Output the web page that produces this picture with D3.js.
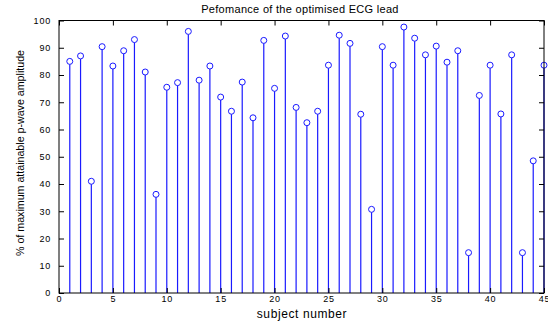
<!DOCTYPE html>
<html><head><meta charset="utf-8">
<script src="https://cdn.jsdelivr.net/npm/d3@7"></script>
<style>body{margin:0;background:#fff}svg{display:block}text{font-family:"Liberation Sans",Arial,sans-serif}</style>
</head><body>
<svg id="c" width="548" height="325"></svg>
<script>
const subjects = d3.range(1, 46);
const values = [85,87,41,90.4,83.3,88.9,93,81.1,36.2,75.5,77.2,96,78.1,83.3,71.9,
66.7,77.4,64.3,92.7,75.1,94.3,68.1,62.5,66.7,83.6,94.6,91.6,65.6,30.7,
90.4,83.6,97.6,93.5,87.4,90.6,84.7,88.9,14.8,72.5,83.6,65.7,87.4,14.8,48.5,83.6];
const xTicks = [0,5,10,15,20,25,30,35,40,45];
const yTicks = [0,10,20,30,40,50,60,70,80,90,100];
const title = "Pefomance of the optimised ECG lead";
const xLabel = "subject number";
const yLabel = "% of maximum attainable p-wave amplitude";

const svg = d3.select("#c");
const L=59, R=544, T=20.5, B=293;
const x = d3.scaleLinear().domain([0,45]).range([L,R]);
const y = d3.scaleLinear().domain([0,100]).range([B,T]);
const blue = "#1a1aff";

const g = svg.append("g");
g.selectAll("line.stem").data(values).join("line")
  .attr("x1",(d,i)=>x(subjects[i])).attr("x2",(d,i)=>x(subjects[i]))
  .attr("y1",y(0)).attr("y2",d=>y(d)+3)
  .attr("stroke",blue).attr("stroke-width",1.2);
g.selectAll("circle").data(values).join("circle")
  .attr("cx",(d,i)=>x(subjects[i])).attr("cy",d=>y(d))
  .attr("r",3).attr("fill","none").attr("stroke",blue).attr("stroke-width",1);

svg.append("rect").attr("x",L).attr("y",T).attr("width",R-L).attr("height",B-T)
  .attr("fill","none").attr("stroke","#000").attr("stroke-width",1);

const tl=5;
const fs = "9px";
const ax = d3.axisBottom(x).tickValues(xTicks).tickSize(-tl).tickPadding(3);
const axb = svg.append("g").attr("transform",`translate(0,${B})`).call(ax);
const axt = svg.append("g").attr("transform",`translate(0,${T})`).call(d3.axisTop(x).tickValues(xTicks).tickSize(-tl).tickFormat(""));
const ayl = svg.append("g").attr("transform",`translate(${L},0)`).call(d3.axisLeft(y).tickValues(yTicks).tickSize(-tl).tickPadding(8));
const ayr = svg.append("g").attr("transform",`translate(${R},0)`).call(d3.axisRight(y).tickValues(yTicks).tickSize(-tl).tickFormat(""));
[axb,axt,ayl,ayr].forEach(a=>{a.select(".domain").remove();a.selectAll("line").attr("stroke","#000");
  a.selectAll("text").attr("font-size",fs).attr("fill","#000").style("letter-spacing","0.8px").attr("font-family","'DejaVu Sans',sans-serif");});

svg.append("text").attr("x",300).attr("y",13).attr("text-anchor","middle")
  .attr("font-size","11px").style("letter-spacing","0.3px").text(title);
svg.append("text").attr("x",302).attr("y",318).attr("text-anchor","middle")
  .attr("font-size","12px").style("letter-spacing","0.6px").text(xLabel);
svg.append("text").attr("transform","translate(24,153) rotate(-90)").attr("text-anchor","middle")
  .attr("font-size","11px").attr("font-family","'Liberation Sans Narrow','DejaVu Sans Condensed',sans-serif")
  .attr("textLength",206).attr("lengthAdjust","spacingAndGlyphs").text(yLabel);
</script>
</body></html>
